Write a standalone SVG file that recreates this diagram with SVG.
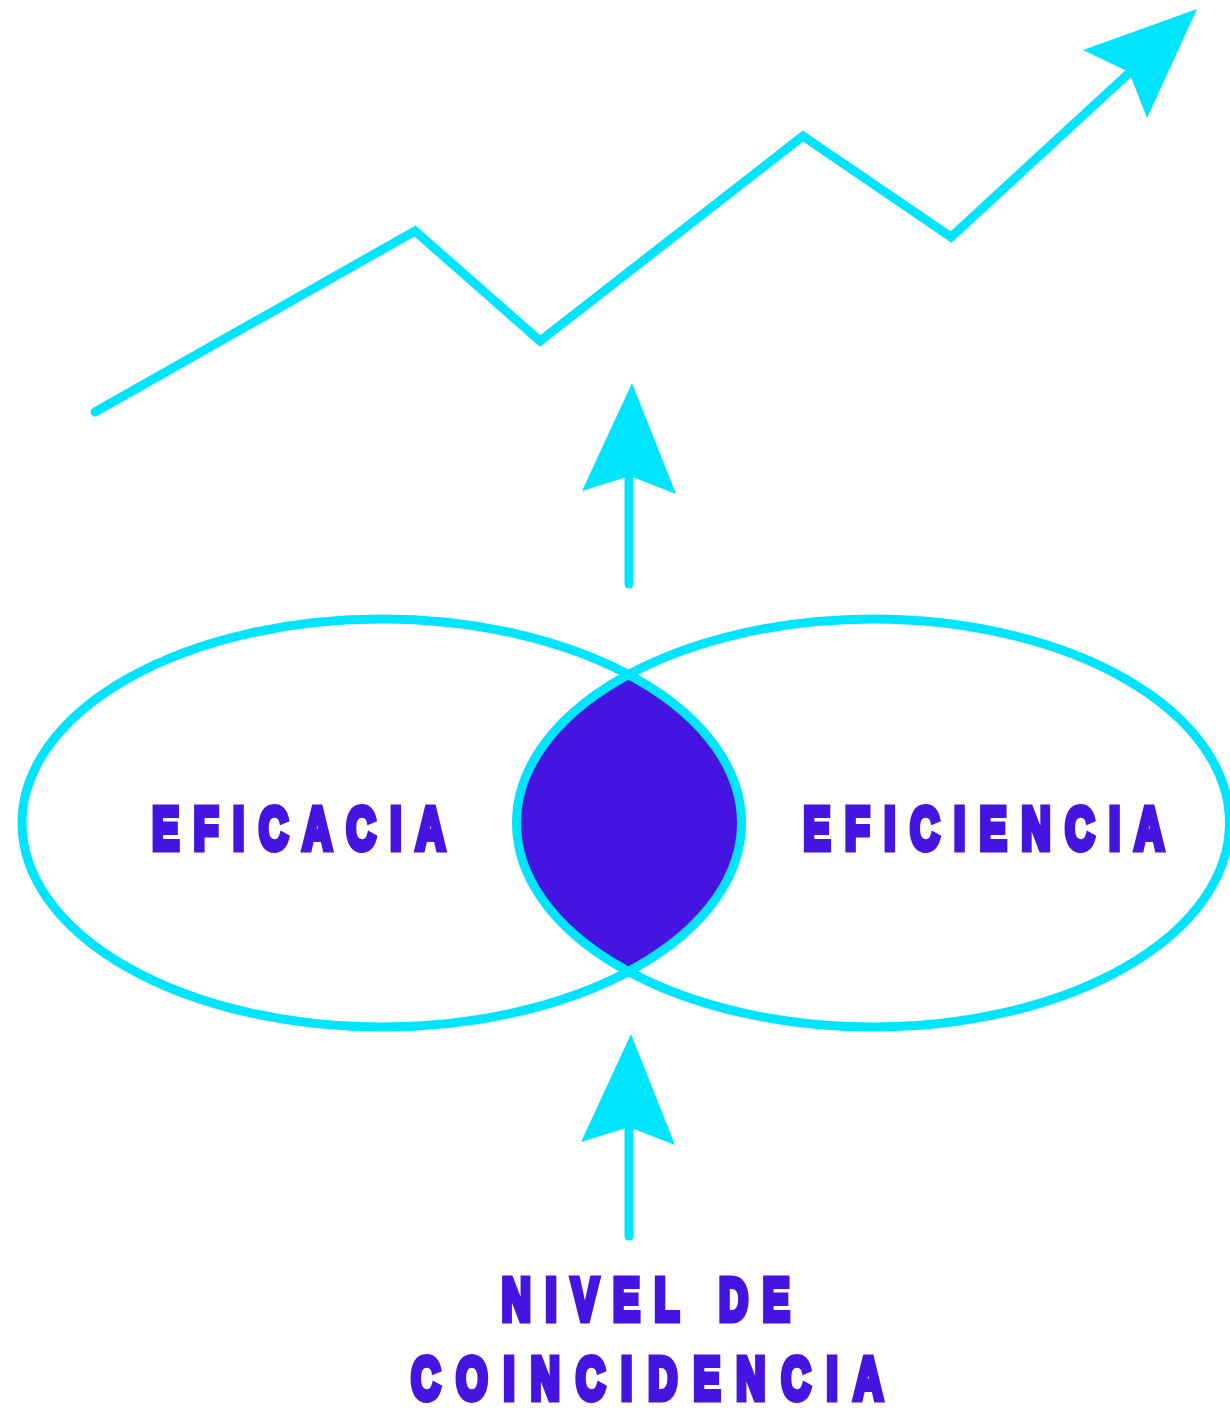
<svg xmlns="http://www.w3.org/2000/svg" width="1230" height="1410" viewBox="0 0 1230 1410">
  <style>
    .ring { fill: none; stroke: #00E5FF; stroke-width: 9; }
    .line { fill: none; stroke: #00E5FF; stroke-width: 9; stroke-linecap: round; stroke-linejoin: miter; }
    .head { fill: #00E5FF; }
    .lbl { font-family: "Liberation Sans", Arial, sans-serif; font-weight: bold; font-size: 60px; fill: #4514E0; stroke: #4514E0; stroke-width: 7; stroke-linejoin: miter; stroke-miterlimit: 2; text-anchor: middle; }
  </style>
  <defs>
    <path id="vhead" d="M0,0 L44,111 L-2,93 L-50,108 Z"/>
    <clipPath id="clipLeft">
      <ellipse cx="381.75" cy="823" rx="359.75" ry="204"/>
    </clipPath>
  </defs>
  <rect width="1230" height="1410" fill="#FFFFFF"/>

  <g id="lens">
    <ellipse cx="873" cy="823" rx="356.5" ry="204" fill="#4514E0" clip-path="url(#clipLeft)"/>
  </g>
  <g id="eficacia">
    <ellipse class="ring" cx="381.75" cy="823" rx="359.75" ry="204"/>
    <text class="lbl" letter-spacing="22" transform="translate(306,849) scale(0.67,1)" x="0" y="0">EFICACIA</text>
  </g>
  <g id="eficiencia">
    <ellipse class="ring" cx="873" cy="823" rx="356.5" ry="204"/>
    <text class="lbl" letter-spacing="22" transform="translate(991,849) scale(0.67,1)" x="0" y="0">EFICIENCIA</text>
  </g>
  <g id="nivel">
    <text class="lbl" letter-spacing="22" transform="translate(653,1320) scale(0.67,1)" x="0" y="0">NIVEL DE</text>
    <text class="lbl" letter-spacing="24" transform="translate(655,1399) scale(0.67,1)" x="0" y="0">COINCIDENCIA</text>
  </g>

  <g id="connectors">
    <polyline class="line" points="95,412 415,231 540,341 803,136 951,237 1128,74"/>
    <path class="head" d="M1197,9 L1147,118 L1129,72 L1083,50 Z"/>
    <line class="line" x1="629" y1="584" x2="629" y2="470"/>
    <use href="#vhead" class="head" transform="translate(632,383)"/>
    <line class="line" x1="629" y1="1236" x2="629" y2="1120"/>
    <use href="#vhead" class="head" transform="translate(631,1034)"/>
  </g>
</svg>
